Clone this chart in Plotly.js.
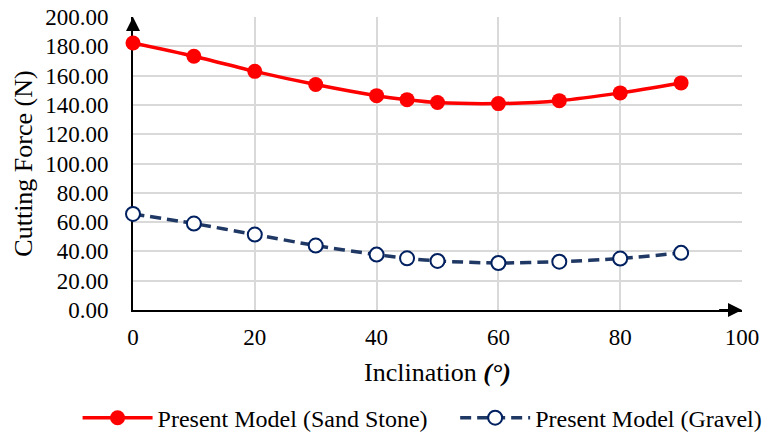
<!DOCTYPE html>
<html>
<head>
<meta charset="utf-8">
<script src="https://cdn.plot.ly/plotly-3.0.1.min.js"></script>
<style>
  html, body { margin: 0; padding: 0; background: #fff; }
  #chart { width: 766px; height: 437px; }
</style>
</head>
<body>
<div id="chart"></div>
<script>
// Inclination angles (degrees)
const inclination = [0, 10, 20, 30, 40, 45, 50, 60, 70, 80, 90];
// Cutting force (N) for each material
const sandStone = [182.3, 173.2, 162.9, 153.9, 146.3, 143.6, 141.6, 140.9, 142.9, 148.2, 155.0];
const gravel = [65.6, 59.0, 51.5, 44.0, 37.8, 35.3, 33.5, 32.1, 33.0, 35.1, 39.0];

const yTicks = [0, 20, 40, 60, 80, 100, 120, 140, 160, 180, 200];
const xTicks = [0, 20, 40, 60, 80, 100];

const serif = 'Liberation Serif, Times New Roman, serif';

const traces = [
  {
    x: inclination, y: sandStone,
    name: 'Present Model (Sand Stone)',
    legend: 'legend',
    mode: 'lines+markers',
    line: { color: '#ff0000', width: 3.5, shape: 'spline', smoothing: 0.8 },
    marker: { color: '#ff0000', size: 15, symbol: 'circle', line: { width: 0 } },
    cliponaxis: false
  },
  {
    x: inclination, y: gravel,
    name: 'Present Model (Gravel)',
    legend: 'legend2',
    mode: 'lines+markers',
    line: { color: '#203864', width: 3.5, dash: '11px,6px', shape: 'spline', smoothing: 0.8 },
    marker: { color: '#ffffff', size: 14, symbol: 'circle', line: { color: '#002060', width: 2 } },
    cliponaxis: false
  }
];

const legendFont = { family: serif, size: 24, color: '#000000' };

const layout = {
  width: 766, height: 437,
  margin: { l: 133, r: 24, t: 17, b: 127, autoexpand: false },
  paper_bgcolor: '#ffffff',
  plot_bgcolor: '#ffffff',
  font: { family: serif, color: '#000000', size: 23 },
  showlegend: true,
  legend: {
    orientation: 'h',
    x: -0.091, xanchor: 'left',
    y: -0.369, yanchor: 'middle',
    font: legendFont,
    itemwidth: 70
  },
  legend2: {
    orientation: 'h',
    x: 0.529, xanchor: 'left',
    y: -0.369, yanchor: 'middle',
    font: legendFont,
    itemwidth: 70
  },
  xaxis: {
    range: [0, 100],
    tickvals: xTicks,
    ticktext: xTicks.map(String),
    showgrid: true, gridcolor: '#d9d9d9', gridwidth: 2,
    zeroline: false,
    showline: true, linecolor: '#000000', linewidth: 2,
    layer: 'below traces',
    ticks: '',
    automargin: false,
    ticklabelstandoff: 5,
    tickfont: { family: serif, size: 23, color: '#000000' },
    title: { text: 'Inclination <b><i>(°)</i></b>', font: { family: serif, size: 26, color: '#000000' }, standoff: 14 }
  },
  yaxis: {
    range: [0, 200],
    tickvals: yTicks,
    ticktext: yTicks.map(v => v.toFixed(2)),
    showgrid: true, gridcolor: '#d9d9d9', gridwidth: 2,
    zeroline: false,
    showline: true, linecolor: '#000000', linewidth: 2,
    layer: 'below traces',
    ticks: '',
    automargin: false,
    ticklabelstandoff: 18,
    tickfont: { family: serif, size: 23, color: '#000000' },
    title: { text: 'Cutting Force (N)', font: { family: serif, size: 26, color: '#000000' }, standoff: 5 }
  },
  annotations: [
    // arrowhead at the top of the y axis
    { x: 0, y: 200, ax: 0, ay: 193, axref: 'x', ayref: 'y', xref: 'x', yref: 'y',
      text: '', showarrow: true, arrowhead: 2, arrowsize: 1.4, arrowwidth: 2, arrowcolor: '#000000' },
    // arrowhead at the right end of the x axis
    { x: 100, y: 0, ax: 96, ay: 0, axref: 'x', ayref: 'y', xref: 'x', yref: 'y',
      text: '', showarrow: true, arrowhead: 2, arrowsize: 1.4, arrowwidth: 2, arrowcolor: '#000000' }
  ]
};

Plotly.newPlot('chart', traces, layout, { displayModeBar: false, staticPlot: true });
</script>
</body>
</html>
